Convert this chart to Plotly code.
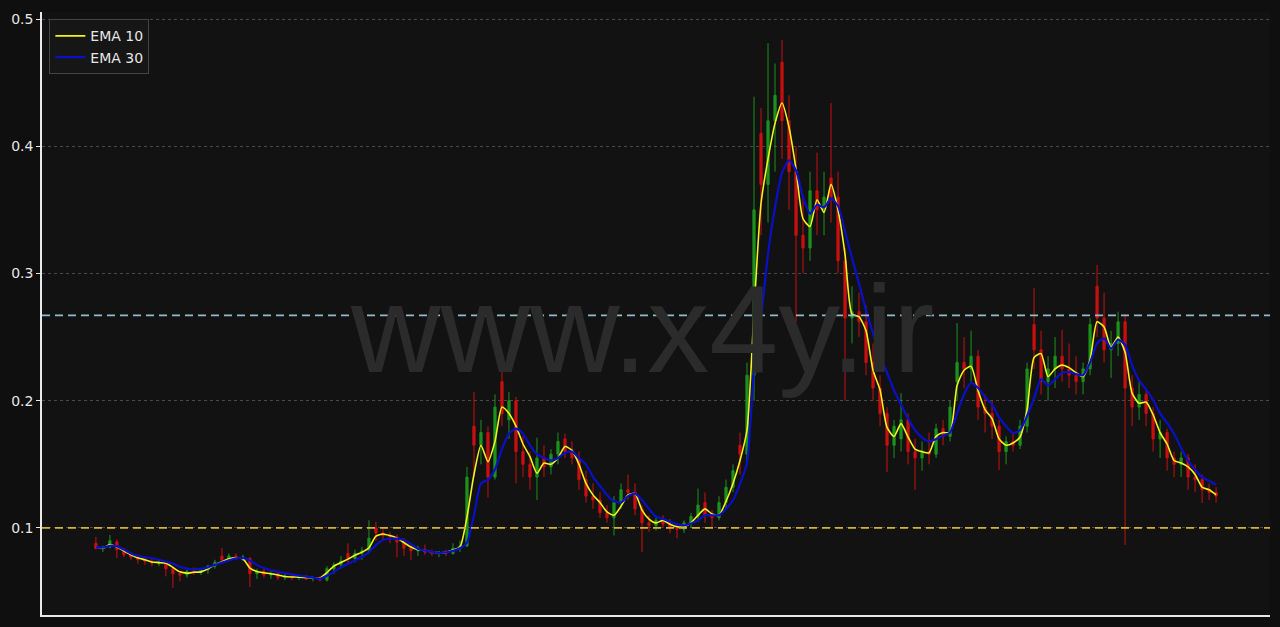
import plotly.graph_objects as go

# ---------------- data ----------------
opens = [0.088, 0.084, 0.085, 0.089, 0.083, 0.079, 0.077, 0.075, 0.073, 0.072,
         0.073, 0.068, 0.064, 0.063, 0.066, 0.065, 0.067, 0.070, 0.078, 0.075,
         0.078, 0.077, 0.076, 0.064, 0.066, 0.063, 0.064, 0.061, 0.062, 0.061,
         0.062, 0.060, 0.061, 0.059, 0.068, 0.071, 0.080, 0.076, 0.080, 0.082,
         0.100, 0.096, 0.094, 0.093, 0.089, 0.084, 0.082, 0.083, 0.081, 0.080,
         0.081, 0.080, 0.084, 0.086, 0.180, 0.165, 0.175, 0.140, 0.215, 0.185,
         0.200, 0.160, 0.150, 0.140, 0.155, 0.148, 0.158, 0.170, 0.160, 0.155,
         0.138, 0.125, 0.122, 0.112, 0.108, 0.120, 0.130, 0.128, 0.115, 0.104,
         0.102, 0.106, 0.103, 0.100, 0.099, 0.104, 0.109, 0.120, 0.110, 0.108,
         0.120, 0.132, 0.165, 0.158, 0.220, 0.410, 0.370, 0.420, 0.466, 0.420,
         0.380, 0.330, 0.320, 0.365, 0.350, 0.375, 0.360, 0.310, 0.265, 0.270,
         0.262, 0.230, 0.210, 0.190, 0.165, 0.170, 0.185, 0.160, 0.155, 0.160,
         0.158, 0.178, 0.172, 0.215, 0.230, 0.225, 0.235, 0.195, 0.190, 0.180,
         0.160, 0.168, 0.165, 0.180, 0.260, 0.240, 0.215, 0.225, 0.235, 0.225,
         0.220, 0.215, 0.225, 0.290, 0.265, 0.240, 0.245, 0.262, 0.210, 0.195,
         0.205, 0.190, 0.170, 0.175, 0.155, 0.150, 0.155, 0.140, 0.138, 0.130,
         0.128]
highs = [0.093, 0.086, 0.0945, 0.091, 0.084, 0.081, 0.079, 0.077, 0.076, 0.075,
         0.074, 0.070, 0.066, 0.067, 0.069, 0.068, 0.071, 0.075, 0.0843, 0.080,
         0.080, 0.079, 0.077, 0.068, 0.068, 0.066, 0.065, 0.064, 0.063, 0.063,
         0.063, 0.062, 0.062, 0.070, 0.073, 0.078, 0.088, 0.083, 0.085, 0.106,
         0.1047, 0.099, 0.097, 0.095, 0.092, 0.088, 0.086, 0.087, 0.083, 0.082,
         0.083, 0.088, 0.090, 0.148, 0.207, 0.185, 0.180, 0.205, 0.226, 0.207,
         0.203, 0.172, 0.160, 0.171, 0.165, 0.162, 0.175, 0.174, 0.168, 0.160,
         0.145, 0.135, 0.128, 0.118, 0.125, 0.135, 0.142, 0.135, 0.118, 0.110,
         0.108, 0.110, 0.107, 0.103, 0.106, 0.112, 0.131, 0.128, 0.114, 0.125,
         0.138, 0.150, 0.175, 0.230, 0.439, 0.430, 0.481, 0.465, 0.4835, 0.440,
         0.400, 0.360, 0.380, 0.395, 0.380, 0.434, 0.380, 0.320, 0.290, 0.285,
         0.275, 0.245, 0.220, 0.195, 0.185, 0.206, 0.190, 0.170, 0.168, 0.175,
         0.182, 0.185, 0.200, 0.261, 0.250, 0.255, 0.240, 0.205, 0.200, 0.185,
         0.172, 0.175, 0.185, 0.230, 0.2886, 0.255, 0.235, 0.250, 0.2556, 0.245,
         0.235, 0.230, 0.265, 0.3067, 0.285, 0.255, 0.270, 0.268, 0.220, 0.215,
         0.210, 0.195, 0.185, 0.178, 0.160, 0.160, 0.158, 0.150, 0.142, 0.135,
         0.132]
lows = [0.083, 0.081, 0.084, 0.0764, 0.077, 0.075, 0.072, 0.071, 0.070, 0.070,
        0.062, 0.0528, 0.058, 0.061, 0.063, 0.063, 0.064, 0.068, 0.073, 0.074,
        0.075, 0.074, 0.0536, 0.060, 0.061, 0.060, 0.059, 0.059, 0.059, 0.059,
        0.059, 0.058, 0.058, 0.058, 0.064, 0.068, 0.072, 0.073, 0.075, 0.080,
        0.090, 0.091, 0.088, 0.077, 0.078, 0.0749, 0.078, 0.079, 0.078, 0.077,
        0.078, 0.079, 0.081, 0.085, 0.140, 0.150, 0.124, 0.138, 0.180, 0.170,
        0.135, 0.140, 0.130, 0.122, 0.140, 0.142, 0.150, 0.155, 0.150, 0.130,
        0.120, 0.115, 0.108, 0.104, 0.094, 0.115, 0.122, 0.110, 0.081, 0.097,
        0.098, 0.100, 0.096, 0.092, 0.096, 0.100, 0.105, 0.104, 0.100, 0.106,
        0.115, 0.128, 0.142, 0.152, 0.200, 0.330, 0.340, 0.380, 0.390, 0.350,
        0.262, 0.300, 0.310, 0.330, 0.330, 0.340, 0.300, 0.200, 0.245, 0.250,
        0.220, 0.200, 0.180, 0.144, 0.155, 0.160, 0.150, 0.130, 0.145, 0.150,
        0.155, 0.165, 0.168, 0.200, 0.210, 0.215, 0.185, 0.175, 0.170, 0.1456,
        0.150, 0.160, 0.162, 0.175, 0.225, 0.205, 0.200, 0.210, 0.215, 0.210,
        0.205, 0.205, 0.220, 0.250, 0.230, 0.218, 0.235, 0.0866, 0.180, 0.185,
        0.180, 0.160, 0.155, 0.145, 0.140, 0.140, 0.130, 0.128, 0.1196, 0.122,
        0.120]
closes = [0.084, 0.085, 0.090, 0.083, 0.079, 0.077, 0.075, 0.074, 0.0725, 0.073,
          0.068, 0.064, 0.063, 0.066, 0.065, 0.067, 0.070, 0.073, 0.075, 0.078,
          0.076, 0.077, 0.064, 0.066, 0.063, 0.064, 0.061, 0.062, 0.061, 0.062,
          0.060, 0.061, 0.059, 0.068, 0.071, 0.074, 0.076, 0.080, 0.082, 0.092,
          0.096, 0.094, 0.093, 0.089, 0.084, 0.082, 0.083, 0.081, 0.080, 0.081,
          0.080, 0.084, 0.086, 0.140, 0.165, 0.175, 0.140, 0.195, 0.190, 0.200,
          0.160, 0.150, 0.140, 0.155, 0.148, 0.158, 0.168, 0.160, 0.155, 0.138,
          0.125, 0.122, 0.112, 0.108, 0.120, 0.130, 0.128, 0.115, 0.104, 0.102,
          0.106, 0.103, 0.100, 0.099, 0.104, 0.109, 0.118, 0.110, 0.108, 0.120,
          0.132, 0.145, 0.158, 0.220, 0.350, 0.370, 0.420, 0.440, 0.420, 0.380,
          0.330, 0.320, 0.365, 0.350, 0.360, 0.360, 0.310, 0.265, 0.270, 0.262,
          0.230, 0.210, 0.190, 0.165, 0.180, 0.185, 0.160, 0.155, 0.160, 0.158,
          0.178, 0.172, 0.195, 0.230, 0.225, 0.235, 0.195, 0.190, 0.180, 0.160,
          0.168, 0.165, 0.180, 0.225, 0.240, 0.215, 0.225, 0.235, 0.225, 0.220,
          0.215, 0.225, 0.260, 0.265, 0.240, 0.245, 0.262, 0.210, 0.195, 0.205,
          0.190, 0.170, 0.175, 0.155, 0.150, 0.155, 0.140, 0.138, 0.130, 0.128,
          0.125]
ema10 = [0.085, 0.084, 0.087, 0.085, 0.082, 0.079, 0.0765, 0.075, 0.0733, 0.0728,
         0.0722, 0.069, 0.0655, 0.0645, 0.0652, 0.0655, 0.068, 0.071, 0.0735, 0.0758,
         0.0765, 0.0758, 0.0685, 0.0658, 0.0648, 0.064, 0.063, 0.0618, 0.0615, 0.0614,
         0.0612, 0.0608, 0.0605, 0.065, 0.070, 0.0728, 0.0755, 0.0785, 0.081, 0.0845,
         0.0935, 0.0953, 0.094, 0.092, 0.0885, 0.085, 0.083, 0.0822, 0.0812, 0.0805,
         0.0808, 0.0827, 0.085, 0.1086, 0.142, 0.165, 0.152, 0.168, 0.195, 0.190,
         0.180, 0.166, 0.156, 0.143, 0.151, 0.150, 0.155, 0.164, 0.161, 0.150,
         0.135, 0.126, 0.120, 0.1126, 0.110, 0.117, 0.126, 0.127, 0.114, 0.107,
         0.104, 0.106, 0.103, 0.101, 0.101, 0.104, 0.110, 0.115, 0.111, 0.110,
         0.121, 0.135, 0.153, 0.177, 0.270, 0.355, 0.390, 0.418, 0.434, 0.415,
         0.382, 0.343, 0.337, 0.358, 0.348, 0.370, 0.350, 0.315, 0.268, 0.266,
         0.255, 0.224, 0.2085, 0.179, 0.172, 0.182, 0.1715, 0.162, 0.160, 0.159,
         0.172, 0.175, 0.175, 0.212, 0.224, 0.227, 0.208, 0.193, 0.186, 0.170,
         0.165, 0.1668, 0.1715, 0.193, 0.234, 0.237, 0.219, 0.225, 0.228, 0.226,
         0.222, 0.219, 0.232, 0.262, 0.258, 0.242, 0.250, 0.238, 0.206, 0.198,
         0.199, 0.189, 0.175, 0.166, 0.153, 0.151, 0.148, 0.142, 0.132, 0.130,
         0.126]
ema30 = [0.085, 0.0845, 0.086, 0.0855, 0.083, 0.080, 0.078, 0.077, 0.0764, 0.075,
         0.0735, 0.072, 0.0695, 0.068, 0.0675, 0.0678, 0.069, 0.071, 0.0728, 0.0745,
         0.0762, 0.0764, 0.0745, 0.071, 0.0685, 0.0668, 0.0655, 0.0645, 0.0635, 0.0625,
         0.0618, 0.061, 0.060, 0.0625, 0.0655, 0.069, 0.0718, 0.0745, 0.0772, 0.081,
         0.0865, 0.0905, 0.0915, 0.0916, 0.0905, 0.0875, 0.0835, 0.0822, 0.0812, 0.0805,
         0.0808, 0.082, 0.084, 0.0885, 0.110, 0.135, 0.138, 0.146, 0.162, 0.174,
         0.178, 0.174, 0.165, 0.158, 0.155, 0.153, 0.155, 0.159, 0.160, 0.155,
         0.150, 0.140, 0.133, 0.126, 0.121, 0.120, 0.125, 0.127, 0.122, 0.115,
         0.109, 0.107, 0.105, 0.103, 0.102, 0.1035, 0.106, 0.110, 0.110, 0.110,
         0.115, 0.122, 0.1345, 0.151, 0.225, 0.265, 0.315, 0.352, 0.379, 0.389,
         0.381, 0.360, 0.347, 0.354, 0.352, 0.359, 0.353, 0.333, 0.312, 0.292,
         0.271, 0.253, 0.235, 0.222, 0.208, 0.197, 0.186, 0.177, 0.171, 0.168,
         0.170, 0.1725, 0.175, 0.190, 0.205, 0.214, 0.210, 0.203, 0.197, 0.187,
         0.180, 0.1745, 0.177, 0.188, 0.202, 0.217, 0.212, 0.217, 0.222, 0.2225,
         0.221, 0.220, 0.230, 0.245, 0.249, 0.241, 0.248, 0.244, 0.228, 0.216,
         0.209, 0.2006, 0.190, 0.1825, 0.174, 0.163, 0.153, 0.146, 0.140, 0.137,
         0.134]
candle_index = list(range(len(closes)))

level_upper = 0.267
level_lower = 0.1
y_ticks = [0.1, 0.2, 0.3, 0.4, 0.5]
y_tick_labels = ["0.1", "0.2", "0.3", "0.4", "0.5"]
watermark = "www.x4y.ir"

# ---------------- figure ----------------
fig = go.Figure()

fig.add_trace(go.Candlestick(
    x=candle_index, open=opens, high=highs, low=lows, close=closes,
    increasing=dict(line=dict(color="#1fa81f", width=1), fillcolor="#1fa81f"),
    decreasing=dict(line=dict(color="#e81010", width=1), fillcolor="#e81010"),
    whiskerwidth=0, opacity=0.85, showlegend=False, hoverinfo="skip",
))

fig.add_trace(go.Scatter(
    x=candle_index, y=ema10, mode="lines", name="EMA 10",
    line=dict(color="#f2f21e", width=1.6, shape="spline", smoothing=0.6),
))
fig.add_trace(go.Scatter(
    x=candle_index, y=ema30, mode="lines", name="EMA 30",
    line=dict(color="#0a10c8", width=2.2, shape="spline", smoothing=0.6),
))

fig.add_hline(y=level_upper, line=dict(color="#93bccb", dash="8px,5px", width=1.8))
fig.add_hline(y=level_lower, line=dict(color="#d6b233", dash="8px,5px", width=1.8))

fig.add_annotation(
    text=watermark, xref="paper", yref="paper", x=0.489, y=0.475,
    showarrow=False, font=dict(family="Liberation Sans, Arial", size=124, color="#2b2b2b"),
)

fig.update_layout(
    width=1280, height=627,
    margin=dict(l=42, r=10, t=12, b=12),
    paper_bgcolor="#0f0f0f",
    plot_bgcolor="#121212",
    font=dict(family="DejaVu Sans", color="#e6e6e6", size=14),
    showlegend=True,
    boxgap=0.55,
    legend=dict(
        x=0.006, y=0.988, xanchor="left", yanchor="top",
        bgcolor="#161616", bordercolor="#444444", borderwidth=1,
        font=dict(size=14, color="#e6e6e6"),
        itemwidth=30,
    ),
    xaxis=dict(
        range=[-7.7, 167.7], showticklabels=False, showgrid=False, zeroline=False,
        showline=True, linecolor="#e8e8e8", linewidth=1.5, ticks="",
        rangeslider=dict(visible=False),
    ),
    yaxis=dict(
        range=[0.0316, 0.5055], tickvals=y_ticks, ticktext=y_tick_labels,
        showgrid=True, gridcolor="#4a4a4a", griddash="dot", gridwidth=0.6,
        zeroline=False, showline=True, linecolor="#e8e8e8", linewidth=1.5,
        ticks="outside", ticklen=4, tickcolor="#e8e8e8",
        tickfont=dict(size=14, color="#e6e6e6"),
    ),
)

fig.write_html("out.html", config={"displayModeBar": False},
               post_script="document.body.style.margin='0';")
